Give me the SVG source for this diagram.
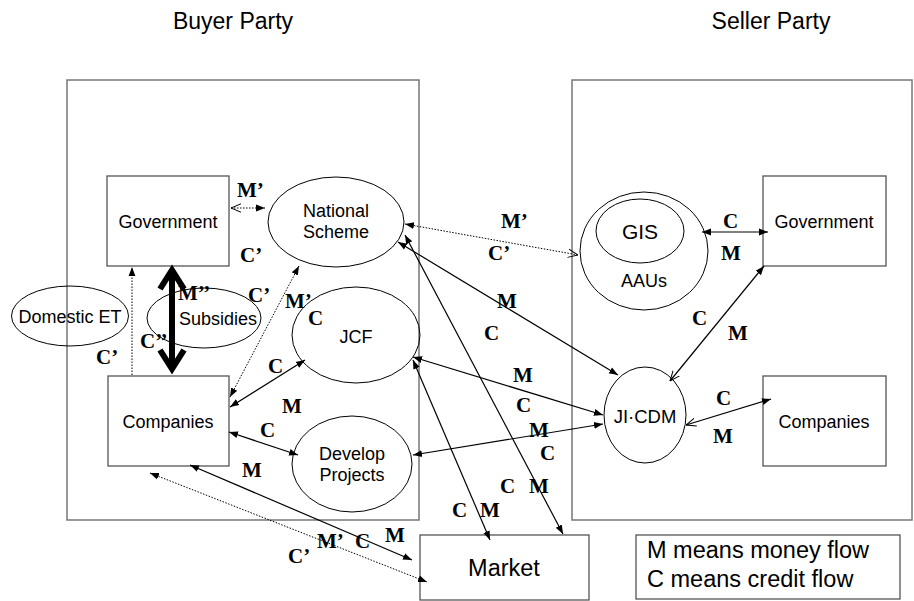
<svg xmlns="http://www.w3.org/2000/svg" width="914" height="601" viewBox="0 0 914 601">
<style>
.party{fill:none;stroke:#777;stroke-width:1.5}
.box{fill:#fff;stroke:#555;stroke-width:1.3}
.ell{fill:none;stroke:#000;stroke-width:1}
.t{font-family:"Liberation Sans",Arial,sans-serif;font-size:18px;fill:#000;text-anchor:middle}
.big{font-size:23px}
.lg{font-family:"Liberation Sans",Arial,sans-serif;font-size:23.5px;fill:#000}
.lab{font-family:"Liberation Serif","Times New Roman",serif;font-weight:bold;font-size:21px;fill:#000}
.s{fill:none;stroke:#000;stroke-width:1.2}
.d{fill:none;stroke:#000;stroke-width:1;stroke-dasharray:1.5 1.5}
</style>
<defs>
<marker id="af" viewBox="0 0 10 10" refX="10" refY="5" markerWidth="9" markerHeight="9" markerUnits="userSpaceOnUse" orient="auto-start-reverse">
<path d="M0,1.2 L10,5 L0,8.8 z" fill="#000"/>
</marker>
<marker id="ao" viewBox="0 0 10 10" refX="10" refY="5" markerWidth="10" markerHeight="10" markerUnits="userSpaceOnUse" orient="auto-start-reverse">
<path d="M0,0.8 L10,5 L0,9.2" fill="none" stroke="#000" stroke-width="1"/>
</marker>
</defs>
<rect width="914" height="601" fill="#fff"/>
<g id="titles">
<text class="t big" x="233" y="29">Buyer Party</text>
<text class="t big" x="771" y="29">Seller Party</text>
</g>
<g id="buyer-party"><rect class="party" x="67" y="80" width="352" height="440"/></g>
<g id="seller-party"><rect class="party" x="572" y="80" width="340" height="440"/></g>
<g id="buyer-government"><rect class="box" x="107" y="176" width="122" height="90"/><text class="t" x="168" y="228">Government</text></g>
<g id="buyer-companies"><rect class="box" x="108" y="376" width="121" height="90"/><text class="t" x="168" y="428">Companies</text></g>
<g id="national-scheme"><ellipse class="ell" cx="336" cy="222" rx="68" ry="45"/><text class="t" x="336" y="217">National</text><text class="t" x="336" y="238">Scheme</text></g>
<g id="domestic-et"><ellipse class="ell" cx="70" cy="316" rx="58.5" ry="30"/><text class="t" x="70" y="323">Domestic ET</text></g>
<g id="subsidies"><ellipse class="ell" cx="204" cy="318" rx="57" ry="30"/><text class="t" x="218" y="325">Subsidies</text></g>
<g id="jcf"><ellipse class="ell" cx="356" cy="335" rx="64" ry="48"/><text class="t" x="356" y="343">JCF</text></g>
<g id="develop-projects"><ellipse class="ell" cx="352" cy="464" rx="60" ry="48"/><text class="t" x="352" y="460">Develop</text><text class="t" x="352" y="481">Projects</text></g>
<g id="aaus"><ellipse class="ell" cx="644" cy="251" rx="64" ry="59"/><text class="t" x="644" y="287">AAUs</text></g>
<g id="gis"><ellipse class="ell" cx="640" cy="231" rx="44" ry="32"/><text class="t" x="640" y="239" style="font-size:21px">GIS</text></g>
<g id="seller-government"><rect class="box" x="763" y="176" width="123" height="90"/><text class="t" x="824" y="228">Government</text></g>
<g id="seller-companies"><rect class="box" x="763" y="376" width="123" height="90"/><text class="t" x="824" y="428">Companies</text></g>
<g id="ji-cdm"><ellipse class="ell" cx="645" cy="415" rx="41" ry="48"/><text class="t" x="645" y="423" style="font-size:18.5px">JI·CDM</text></g>
<g id="market"><rect class="box" x="420" y="535" width="169" height="65"/><text class="t" x="504" y="576" style="font-size:23.5px">Market</text></g>
<g id="legend"><rect class="box" x="636" y="535" width="264" height="64"/><text class="lg" x="647" y="558">M means money flow</text><text class="lg" x="647" y="587">C means credit flow</text></g>
<g id="connectors">
<line class="d" x1="231" y1="208" x2="265" y2="208" marker-start="url(#ao)" marker-end="url(#af)"/>
<line x1="172" y1="272" x2="172" y2="367" stroke="#000" stroke-width="6"/>
<polyline points="160,289 172,270 184,289" fill="none" stroke="#000" stroke-width="6" stroke-linejoin="miter"/>
<polyline points="160,350 172,369 184,350" fill="none" stroke="#000" stroke-width="6" stroke-linejoin="miter"/>
<line class="d" x1="132" y1="375" x2="132" y2="267" marker-end="url(#af)"/>
<line class="d" x1="299" y1="266" x2="230" y2="397" marker-start="url(#af)" marker-end="url(#af)"/>
<line class="s" x1="230" y1="407" x2="305" y2="360" marker-start="url(#af)" marker-end="url(#af)"/>
<line class="s" x1="229" y1="432" x2="298" y2="455" marker-start="url(#af)" marker-end="url(#af)"/>
<line class="s" x1="190" y1="465" x2="412" y2="560" marker-start="url(#af)" marker-end="url(#af)"/>
<line class="d" x1="150" y1="473" x2="427" y2="582" marker-start="url(#af)" marker-end="url(#af)"/>
<line class="d" x1="405" y1="224" x2="578" y2="255" marker-start="url(#af)" marker-end="url(#ao)"/>
<line class="s" x1="398" y1="242" x2="618" y2="375" marker-start="url(#af)" marker-end="url(#af)"/>
<line class="s" x1="405" y1="235" x2="563" y2="534" marker-start="url(#af)" marker-end="url(#af)"/>
<line class="s" x1="413" y1="357" x2="603" y2="415" marker-start="url(#af)" marker-end="url(#af)"/>
<line class="s" x1="413" y1="360" x2="490" y2="540" marker-start="url(#af)" marker-end="url(#af)"/>
<line class="s" x1="413" y1="455" x2="603" y2="424" marker-start="url(#af)" marker-end="url(#af)"/>
<line class="s" x1="702" y1="232" x2="768" y2="232" marker-start="url(#af)" marker-end="url(#af)"/>
<line class="s" x1="764" y1="266" x2="670" y2="381" marker-start="url(#af)" marker-end="url(#ao)"/>
<line class="s" x1="686" y1="425" x2="771" y2="399" marker-start="url(#ao)" marker-end="url(#af)"/>
</g>
<g id="labels">
<text class="lab" x="237" y="197">M’</text>
<text class="lab" x="240" y="262">C’</text>
<text class="lab" x="178" y="300">M’’</text>
<text class="lab" x="248" y="302">C’</text>
<text class="lab" x="285" y="308">M’</text>
<text class="lab" x="308" y="325">C</text>
<text class="lab" x="140" y="348">C’’</text>
<text class="lab" x="96" y="364">C’</text>
<text class="lab" x="268" y="373">C</text>
<text class="lab" x="282" y="413">M</text>
<text class="lab" x="260" y="437">C</text>
<text class="lab" x="242" y="477">M</text>
<text class="lab" x="317" y="548">M’</text>
<text class="lab" x="355" y="548">C</text>
<text class="lab" x="385" y="542">M</text>
<text class="lab" x="288" y="563">C’</text>
<text class="lab" x="501" y="228">M’</text>
<text class="lab" x="488" y="260">C’</text>
<text class="lab" x="497" y="308">M</text>
<text class="lab" x="484" y="340">C</text>
<text class="lab" x="513" y="382">M</text>
<text class="lab" x="516" y="412">C</text>
<text class="lab" x="529" y="437">M</text>
<text class="lab" x="540" y="460">C</text>
<text class="lab" x="500" y="493">C</text>
<text class="lab" x="529" y="493">M</text>
<text class="lab" x="452" y="517">C</text>
<text class="lab" x="480" y="517">M</text>
<text class="lab" x="723" y="228">C</text>
<text class="lab" x="721" y="260">M</text>
<text class="lab" x="692" y="325">C</text>
<text class="lab" x="728" y="340">M</text>
<text class="lab" x="716" y="405">C</text>
<text class="lab" x="713" y="443">M</text>
</g>
</svg>
